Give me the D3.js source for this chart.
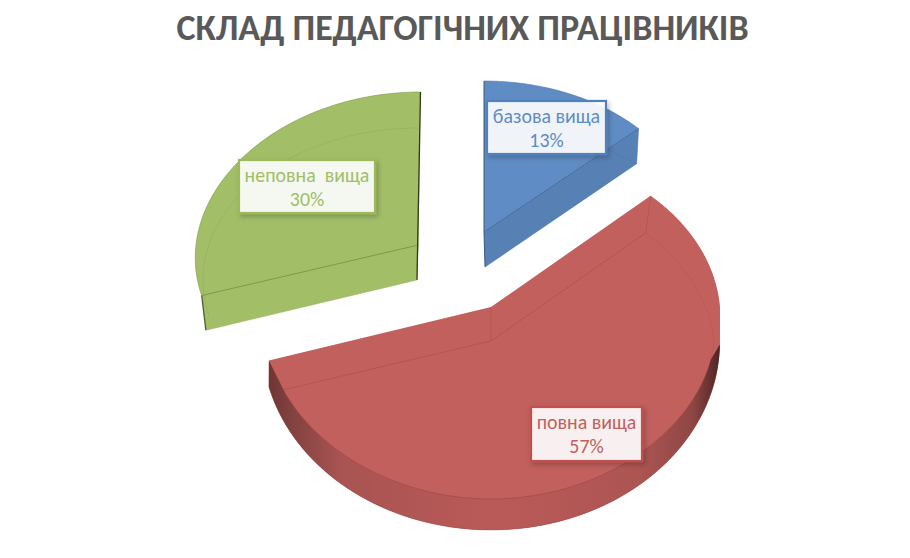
<!DOCTYPE html>
<html><head><meta charset="utf-8">
<script src="https://cdn.jsdelivr.net/npm/d3@7"></script>
<style>html,body{margin:0;padding:0;background:#fff}svg{display:block}</style>
</head><body><svg id="c" width="910" height="558"></svg>
<script>
const chartTitle = "СКЛАД ПЕДАГОГІЧНИХ ПРАЦІВНИКІВ";
const categories = ["базова вища", "повна вища", "неповна  вища"];
const shares = [13, 57, 30];
const colors = ["#5F8CC4", "#C1605C", "#A2BE67"];
const labelColors = ["#4F81BD", "#C0504D", "#9BBB59"];
const wallColors = ["#5780B5", "#B85A58", "#A2BE67"];
const edgeColors = ["#3F6595", "#A34A48", "#7E9A48"];
const FONT = "Carlito, Lato, 'Open Sans', sans-serif";

const svg = d3.select("#c");
const defs = svg.append("defs");
const shadow = defs.append("filter").attr("id","sh").attr("x","-20%").attr("y","-20%").attr("width","140%").attr("height","150%");
shadow.append("feDropShadow").attr("dx",2).attr("dy",2.5).attr("stdDeviation",2.5).attr("flood-color","#000").attr("flood-opacity",0.25);
const g = defs.append("linearGradient").attr("id","wall").attr("gradientUnits","userSpaceOnUse")
  .attr("x1",268).attr("x2",720).attr("y1",0).attr("y2",0);
[[0,"#6E3533"],[0.04,"#7E3F3D"],[0.16,"#A85452"],[0.5,"#BA5A58"],[0.82,"#AD5553"],[0.94,"#8E4644"],[1,"#4E2523"]]
  .forEach(s=>g.append("stop").attr("offset",s[0]).attr("stop-color",s[1]));

const arcs = d3.pie().sort(null).value(d=>d)(shares);

function layer(cx,cy,rx,ry,kx=0,ky=0,kabs=0){
  const sx=d3.scaleLinear().domain([-1,1]).range([cx-rx,cx+rx]);
  const sy=d3.scaleLinear().domain([-1,1]).range([cy-ry,cy+ry]);
  const at=a=>{const X=Math.sin(a),Y=-Math.cos(a);return [sx(X*(1+kx*Y-kabs*Math.abs(Y))),sy(Y*(1+ky*Y))];};
  at.apex=[cx,cy];
  at.sweep=(a0,a1)=>d3.range(0,1.0001,1/80).map(t=>at(a0+(a1-a0)*t));
  return at;
}
const deg=d=>d*Math.PI/180;
const line=d3.line();
const poly=p=>line(p)+"Z";
const draw=(d,fill,stroke,sw,op)=>svg.append("path").attr("d",d).attr("fill",fill||"none")
   .attr("stroke",stroke||"none").attr("stroke-width",sw||0).attr("stroke-opacity",op==null?1:op).attr("stroke-linejoin","round");

/* --- green slice --- */
{
  const A=arcs[2], back=layer(420.5,245,224.5,161,0.08,0.05), front=layer(417,280,222,160,0,0.05);
  const inner=layer(419,280,216,152);
  const outline=[[418.5,245],...back.sweep(A.endAngle,A.startAngle),front(A.startAngle),front.apex];
  draw(poly(outline),colors[2]);
  draw(line(inner.sweep(deg(256),A.endAngle)),null,"#8FA95B",0.7,0.6);
  draw(line(back.sweep(A.endAngle,A.startAngle)),null,"#7E9A48",0.8,0.8);
  draw(line([[418.5,245],back(A.startAngle)]),null,edgeColors[2],1);
  draw(line([back(A.endAngle),front.apex]),null,"#2F3A18",1.3);
  draw(line([back(A.startAngle),front(A.startAngle)]),null,"#3F4C22",1.3,0.9);
  draw(line([front(A.startAngle),front.apex]),null,"#94AF5C",0.8,0.6);
}
/* --- red slice --- */
{
  const A=arcs[1], back=layer(491,307,229,170,0.064,0.064), mid=layer(491,341,223,158,0,0,0.07);
  const rim=layer(491,341,229,189);
  const outline=[back.apex,...back.sweep(A.startAngle,deg(90)),...rim.sweep(deg(90),deg(256)),back(A.endAngle)];
  draw(poly(outline),colors[1]);
  const band=[rim(deg(91)),...rim.sweep(deg(91),deg(256)),back(A.endAngle),...mid.sweep(A.endAngle,deg(97))];
  draw(poly(band),"url(#wall)");
  draw(poly([mid.apex,...mid.sweep(A.startAngle,A.endAngle)]),colors[1]);
  draw(line(mid.sweep(deg(100),A.endAngle)),null,edgeColors[1],0.9,0.85);
  draw(line(mid.sweep(A.startAngle,deg(100))),null,edgeColors[1],0.6,0.35);
  draw(line([mid(A.startAngle),mid.apex,mid(A.endAngle)]),null,edgeColors[1],0.8,0.6);
  draw(line([back.apex,mid.apex]),null,edgeColors[1],0.8,0.5);
  draw(line([back(A.startAngle),mid(A.startAngle)]),null,edgeColors[1],0.8,0.5);
  draw(line(rim.sweep(deg(100),deg(256))),null,"#8E4644",0.6,0.6);
}
/* --- blue slice --- */
{
  const A=arcs[0], top=layer(484,232,212,151), low=layer(485,267,208,151);
  draw(poly([top.apex,...top.sweep(A.startAngle,A.endAngle)]),colors[0]);
  draw(poly([top.apex,top(A.endAngle),low(A.endAngle),low.apex]),wallColors[0]);
  draw(line([top(A.startAngle),top.apex,low.apex]),null,"#2F4F78",1,0.9);
  draw(line([top.apex,top(A.endAngle)]),null,edgeColors[0],0.9);
  draw(line(top.sweep(A.startAngle,A.endAngle)),null,"#4A74A8",0.7,0.8);
  draw(line([top(A.endAngle),low(A.endAngle),low.apex]),null,"#4A74A8",0.7,0.8);
  const onEdge=d3.interpolateArray(top.apex,top(A.endAngle))(0.8);
  draw(line([onEdge,low(A.endAngle)]),null,"#4A74A8",0.7,0.6);
}

/* --- labels --- */
const labelBoxes=[[487,101,119,53],[531,407,111,54],[239,160,136,53]];
categories.forEach((name,i)=>{
  const b=labelBoxes[i], lab=svg.append("g");
  lab.append("rect").attr("x",b[0]).attr("y",b[1]).attr("width",b[2]).attr("height",b[3])
    .attr("fill","#fff").attr("fill-opacity",0.9).attr("stroke",labelColors[i]).attr("stroke-width",2.2).attr("filter","url(#sh)");
  [name, shares[i]+"%"].forEach((t,j)=>lab.append("text").attr("x",b[0]+b[2]/2).attr("y",b[1]+22+j*24)
    .attr("text-anchor","middle").attr("xml:space","preserve").style("white-space","pre")
    .attr("font-family",FONT).attr("font-size",19.9).attr("fill",colors[i]).text(t));
});

svg.append("text").attr("x",462.5).attr("y",40).attr("text-anchor","middle").attr("font-family",FONT)
  .attr("font-weight",700).attr("font-size",36).attr("fill","#595959").text(chartTitle);
</script></body></html>
